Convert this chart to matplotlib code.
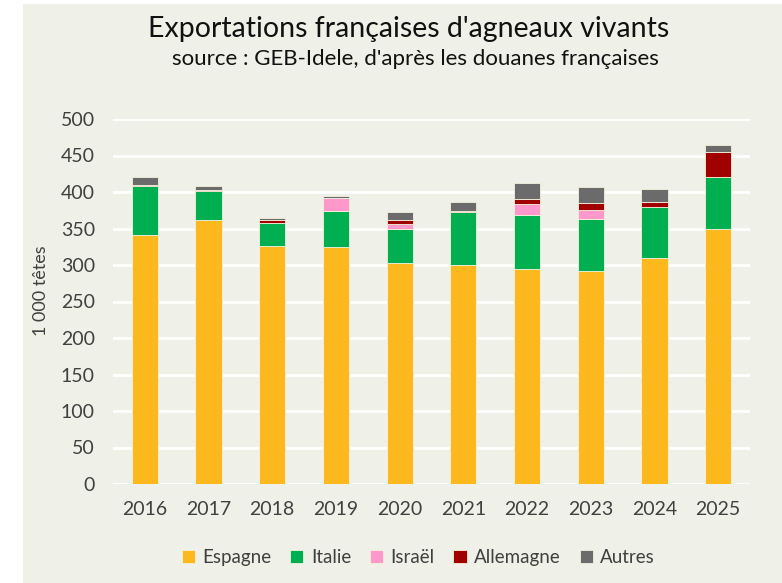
import matplotlib.pyplot as plt
import numpy as np
from matplotlib.patches import Rectangle

annees = ["2016", "2017", "2018", "2019", "2020", "2021", "2022", "2023", "2024", "2025"]
espagne = [341, 361, 326, 324, 303, 300, 295, 292, 309, 349]
italie = [67, 41, 31, 50, 47, 72, 73, 71, 70, 71]
israel = [0, 0, 0, 18, 6, 0, 15, 12, 0, 0]
allemagne = [2, 1, 4, 0, 5.5, 2, 7, 10.5, 7, 35]
autres = [10, 5, 3.5, 2, 11.5, 12, 23, 22, 18, 10]

series = [("Espagne", espagne, "#FDB81E"),
          ("Italie", italie, "#00B050"),
          ("Israël", israel, "#FF99CC"),
          ("Allemagne", allemagne, "#A00000"),
          ("Autres", autres, "#6B6B6B")]

fond = "#EFF0E7"
plt.rcParams['font.family'] = ['Lato', 'DejaVu Sans']

fig = plt.figure(figsize=(7.82, 5.83), dpi=100)
fig.patch.set_facecolor("white")
fig.add_artist(Rectangle((23 / 782, 0), 1, 579 / 583, transform=fig.transFigure,
                         facecolor=fond, edgecolor="none", zorder=-10))

ax = fig.add_axes([113 / 782, 1 - 484 / 583, 637 / 782, 365 / 583])
ax.set_facecolor(fond)

x = np.arange(len(annees))
bas = np.zeros(len(annees))
for nom, vals, coul in series:
    ax.bar(x, vals, 0.41, bottom=bas, color=coul, label=nom, zorder=3,
           edgecolor="#F5F0DC", linewidth=0.6)
    bas += np.array(vals)

ax.set_xlim(-0.5, len(annees) - 0.5)
ax.set_ylim(0, 500)
ax.set_yticks(range(0, 501, 50))
ax.set_xticks(x)
ax.set_xticklabels(annees)
ax.yaxis.grid(True, color="white", linewidth=2, zorder=1)
ax.set_axisbelow(True)
for s in ax.spines.values():
    s.set_visible(False)
ax.tick_params(length=0, labelsize=14, colors="#404040")
ax.tick_params(axis="x", pad=12)
ax.tick_params(axis="y", pad=13)
ax.set_ylabel("1 000 têtes", fontsize=13, color="#404040")
ax.yaxis.set_label_coords(-0.100, 0.53)

fig.text(0.522, 0.950, "Exportations françaises d'agneaux vivants",
         ha="center", va="center", fontsize=20.5, color="#111111")
fig.text(0.531, 0.898, "source : GEB-Idele, d'après les douanes françaises",
         ha="center", va="center", fontsize=16, color="#111111")

fig.legend(loc="center", bbox_to_anchor=(0.535, 0.043), ncol=5, frameon=False,
           fontsize=13.5, handlelength=0.7, handleheight=0.7, handletextpad=0.4,
           columnspacing=1.0, labelcolor="#404040")

fig.savefig("out.png", dpi=100, facecolor=fig.get_facecolor())
